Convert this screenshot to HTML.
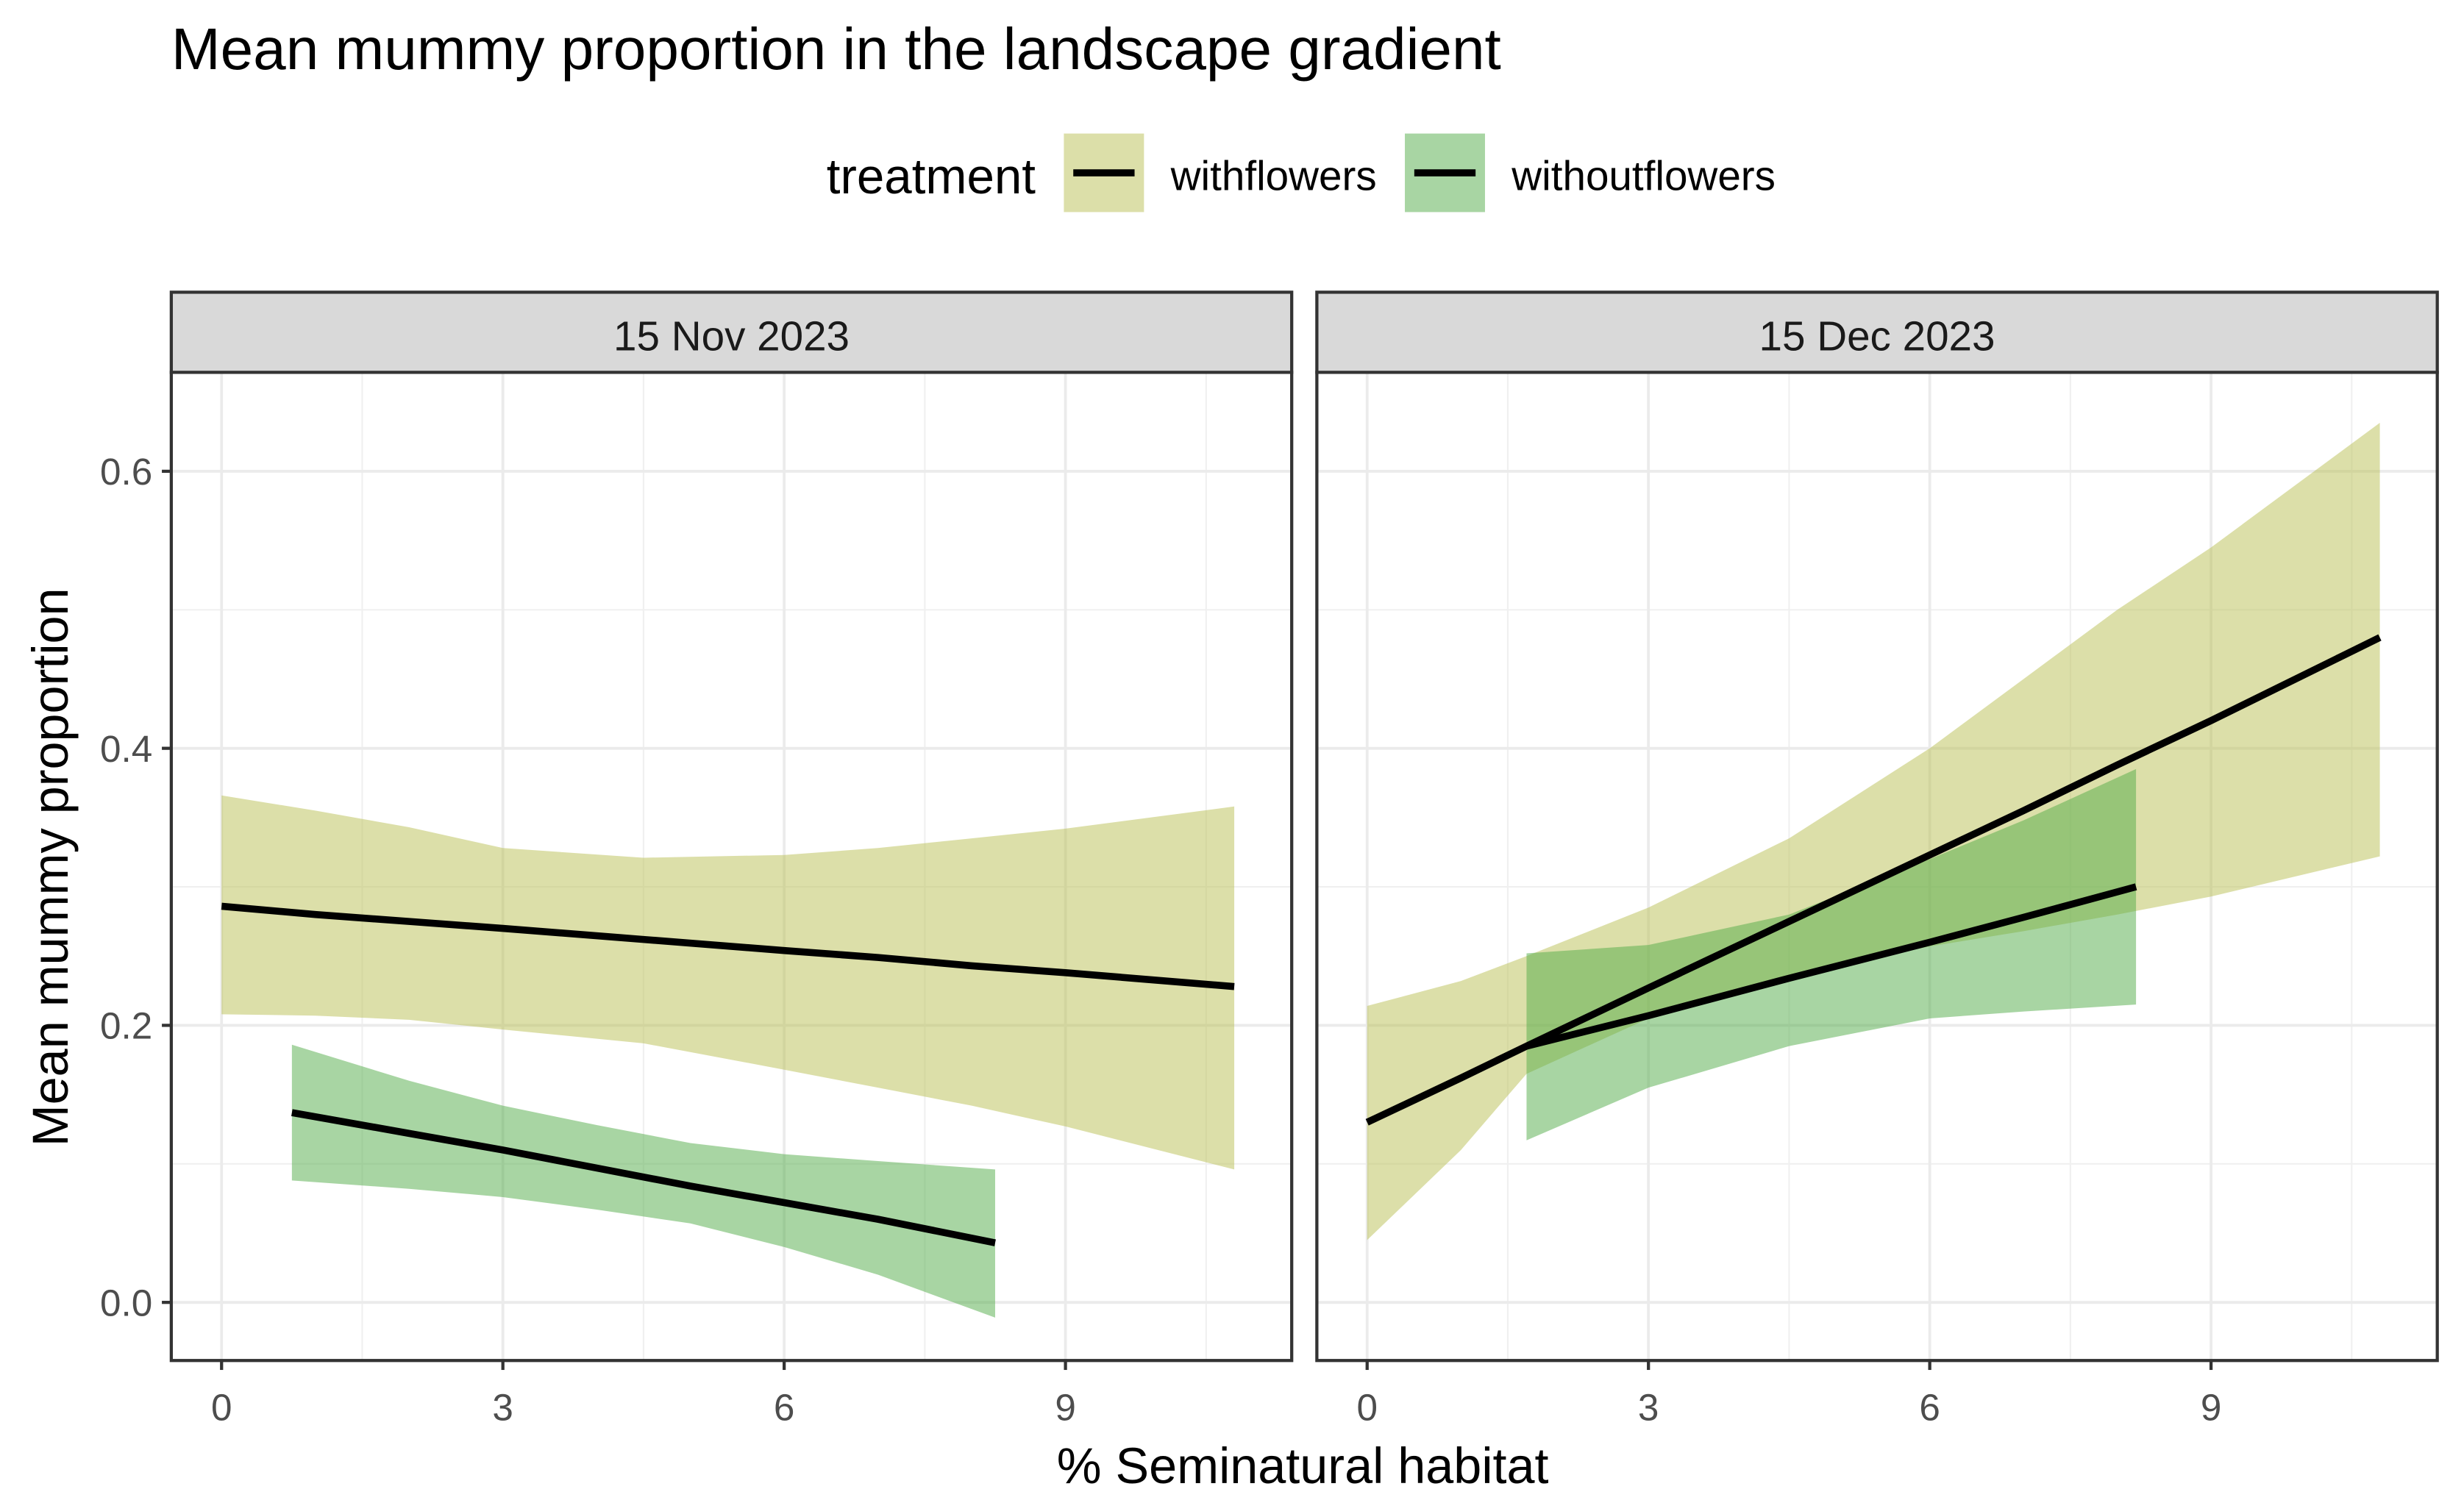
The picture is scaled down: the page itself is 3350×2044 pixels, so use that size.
<!DOCTYPE html>
<html><head><meta charset="utf-8"><style>
html,body{margin:0;padding:0;background:#fff;}
svg{display:block;}
text{font-family:"Liberation Sans",Arial,sans-serif;}
</style></head><body>
<svg id="chart" width="3350" height="2044" viewBox="0 0 1568 956.7" preserveAspectRatio="none" xmlns="http://www.w3.org/2000/svg">
<text x="109" y="44" font-size="37.5" fill="#000">Mean mummy proportion in the landscape gradient</text>
<g>
<text x="526" y="123" font-size="31.5" fill="#000">treatment</text>
<g>
<rect x="677" y="85" width="51" height="50" fill="#dcdfa9"/>
<line x1="683" x2="722" y1="110" y2="110" stroke="#000" stroke-width="4.5"/>
<text x="745" y="121" font-size="26.5" fill="#000">withflowers</text>
</g>
<g>
<rect x="894" y="85" width="51" height="50" fill="#a8d5a3"/>
<line x1="900" x2="939" y1="110" y2="110" stroke="#000" stroke-width="4.5"/>
<text x="962" y="121" font-size="26.5" fill="#000">withoutflowers</text>
</g>
</g>
<g id="panels"></g>
<text x="829" y="944" font-size="32" text-anchor="middle" fill="#000">% Seminatural habitat</text>
<text transform="translate(43,552) rotate(-90)" font-size="32" text-anchor="middle" fill="#000">Mean mummy proportion</text>
</svg>
<script>
const panelTitles = ["15 Nov 2023", "15 Dec 2023"];
const xTicks = [0, 3, 6, 9];
const yTicks = [0.0, 0.2, 0.4, 0.6];
const yTickLabels = ["0.0", "0.2", "0.4", "0.6"];
// Nov withflowers
const novWithX = [0, 1, 2, 3, 4.5, 6, 7, 8, 9, 10.8];
const novWithFit = [0.286, 0.280, 0.275, 0.270, 0.262, 0.254, 0.249, 0.243, 0.238, 0.228];
const novWithUpper = [0.366, 0.355, 0.343, 0.328, 0.321, 0.323, 0.328, 0.335, 0.342, 0.358];
const novWithLower = [0.208, 0.207, 0.204, 0.197, 0.187, 0.168, 0.155, 0.142, 0.127, 0.096];
// Nov withoutflowers
const novWithoutX = [0.75, 2, 3, 4, 5, 6, 7, 8.25];
const novWithoutFit = [0.137, 0.122, 0.110, 0.097, 0.084, 0.072, 0.060, 0.043];
const novWithoutUpper = [0.186, 0.160, 0.142, 0.128, 0.115, 0.107, 0.102, 0.096];
const novWithoutLower = [0.088, 0.082, 0.076, 0.067, 0.057, 0.040, 0.020, -0.011];
// Dec withflowers
const decWithX = [0, 1, 1.7, 3, 4.5, 6, 7, 8, 9, 10.8];
const decWithFit = [0.130, 0.162, 0.185, 0.227, 0.275, 0.323, 0.355, 0.388, 0.420, 0.480];
const decWithUpper = [0.214, 0.232, 0.250, 0.285, 0.335, 0.400, 0.450, 0.500, 0.545, 0.635];
const decWithLower = [0.045, 0.110, 0.165, 0.205, 0.235, 0.257, 0.268, 0.280, 0.293, 0.322];
// Dec withoutflowers
const decWithoutX = [1.7, 3, 4.5, 6, 7, 8.2];
const decWithoutFit = [0.185, 0.207, 0.234, 0.260, 0.278, 0.300];
const decWithoutUpper = [0.252, 0.258, 0.280, 0.320, 0.348, 0.385];
const decWithoutLower = [0.117, 0.155, 0.185, 0.205, 0.210, 0.215];

const NS = "http://www.w3.org/2000/svg";
const panelLeft = [109, 838], panelW = 713, stripTop = 186, plotTop = 237, plotBot = 866;
const x0 = [141, 870], xPer = 59.67;
function yScale(v){ return 829 - v * 881.7; }
function xScale(p, v){ return x0[p] + v * xPer; }
function mk(tag, attrs, parent){ const e = document.createElementNS(NS, tag); for (const k in attrs) e.setAttribute(k, attrs[k]); parent.appendChild(e); return e; }
const root = document.getElementById("panels");
const series = [
  [[novWithX, novWithFit, novWithUpper, novWithLower, "rgba(185,191,83,0.5)", "withflowers"],
   [novWithoutX, novWithoutFit, novWithoutUpper, novWithoutLower, "rgba(81,171,71,0.5)", "withoutflowers"]],
  [[decWithX, decWithFit, decWithUpper, decWithLower, "rgba(185,191,83,0.5)", "withflowers"],
   [decWithoutX, decWithoutFit, decWithoutUpper, decWithoutLower, "rgba(81,171,71,0.5)", "withoutflowers"]]
];
for (let p = 0; p < 2; p++) {
  const g = mk("g", {}, root);
  
  
  const L = panelLeft[p], R = L + panelW;
  mk("rect", {x: L, y: plotTop, width: panelW, height: plotBot - plotTop, fill: "#fff"}, g);
  for (let i = 0; i < 4; i++) {
    const yv = yTicks[i] + 0.1;
    mk("line", {x1: L, x2: R, y1: yScale(yv), y2: yScale(yv), stroke: "#f0f0f0", "stroke-width": 1}, g);
    const xv = xTicks[i] + 1.5;
    mk("line", {x1: xScale(p, xv), x2: xScale(p, xv), y1: plotTop, y2: plotBot, stroke: "#f0f0f0", "stroke-width": 1}, g);
  }
  for (let i = 0; i < yTicks.length; i++) {
    const y = yScale(yTicks[i]);
    mk("line", {x1: L, x2: R, y1: y, y2: y, stroke: "#ebebeb", "stroke-width": 1.8}, g);
  }
  for (let i = 0; i < xTicks.length; i++) {
    const x = xScale(p, xTicks[i]);
    mk("line", {x1: x, x2: x, y1: plotTop, y2: plotBot, stroke: "#ebebeb", "stroke-width": 1.8}, g);
  }
  for (const s of series[p]) {
    const [xs, fit, up, lo, col, nm] = s;
    let d = "";
    for (let i = 0; i < xs.length; i++) d += (i ? "L" : "M") + xScale(p, xs[i]) + "," + yScale(up[i]);
    for (let i = xs.length - 1; i >= 0; i--) d += "L" + xScale(p, xs[i]) + "," + yScale(lo[i]);
    const rib = mk("path", {d: d + "Z", fill: col}, g);
    
    
  }
  for (const s of series[p]) {
    const [xs, fit, up, lo, col, nm] = s;
    let d = "";
    for (let i = 0; i < xs.length; i++) d += (i ? "L" : "M") + xScale(p, xs[i]) + "," + yScale(fit[i]);
    const ln = mk("path", {d: d, fill: "none", stroke: "#000", "stroke-width": 4.5, "stroke-linejoin": "round"}, g);
    
    
  }
  mk("rect", {x: L, y: plotTop, width: panelW, height: plotBot - plotTop, fill: "none", stroke: "#333", "stroke-width": 2}, g);
  const strip = mk("rect", {x: L, y: stripTop, width: panelW, height: plotTop - stripTop, fill: "#d9d9d9", stroke: "#333", "stroke-width": 2}, g);
  
  
  const st = mk("text", {x: L + panelW / 2, y: 223, "font-size": 26.5, "text-anchor": "middle", fill: "#1a1a1a"}, g);
  st.textContent = panelTitles[p];
  
  
  for (let i = 0; i < xTicks.length; i++) {
    const x = xScale(p, xTicks[i]);
    mk("line", {x1: x, x2: x, y1: plotBot, y2: plotBot + 6, stroke: "#333", "stroke-width": 2}, g);
    const t = mk("text", {x: x, y: 904, "font-size": 24, "text-anchor": "middle", fill: "#4d4d4d"}, g);
    t.textContent = xTicks[i];
    
    
  }
  if (p === 0) {
    for (let i = 0; i < yTicks.length; i++) {
      const y = yScale(yTicks[i]);
      mk("line", {x1: L - 6, x2: L, y1: y, y2: y, stroke: "#333", "stroke-width": 2}, g);
      const t = mk("text", {x: L - 12, y: y + 8.5, "font-size": 24, "text-anchor": "end", fill: "#4d4d4d"}, g);
      t.textContent = yTickLabels[i];
      
      
    }
  }
}
</script>
</body></html>
